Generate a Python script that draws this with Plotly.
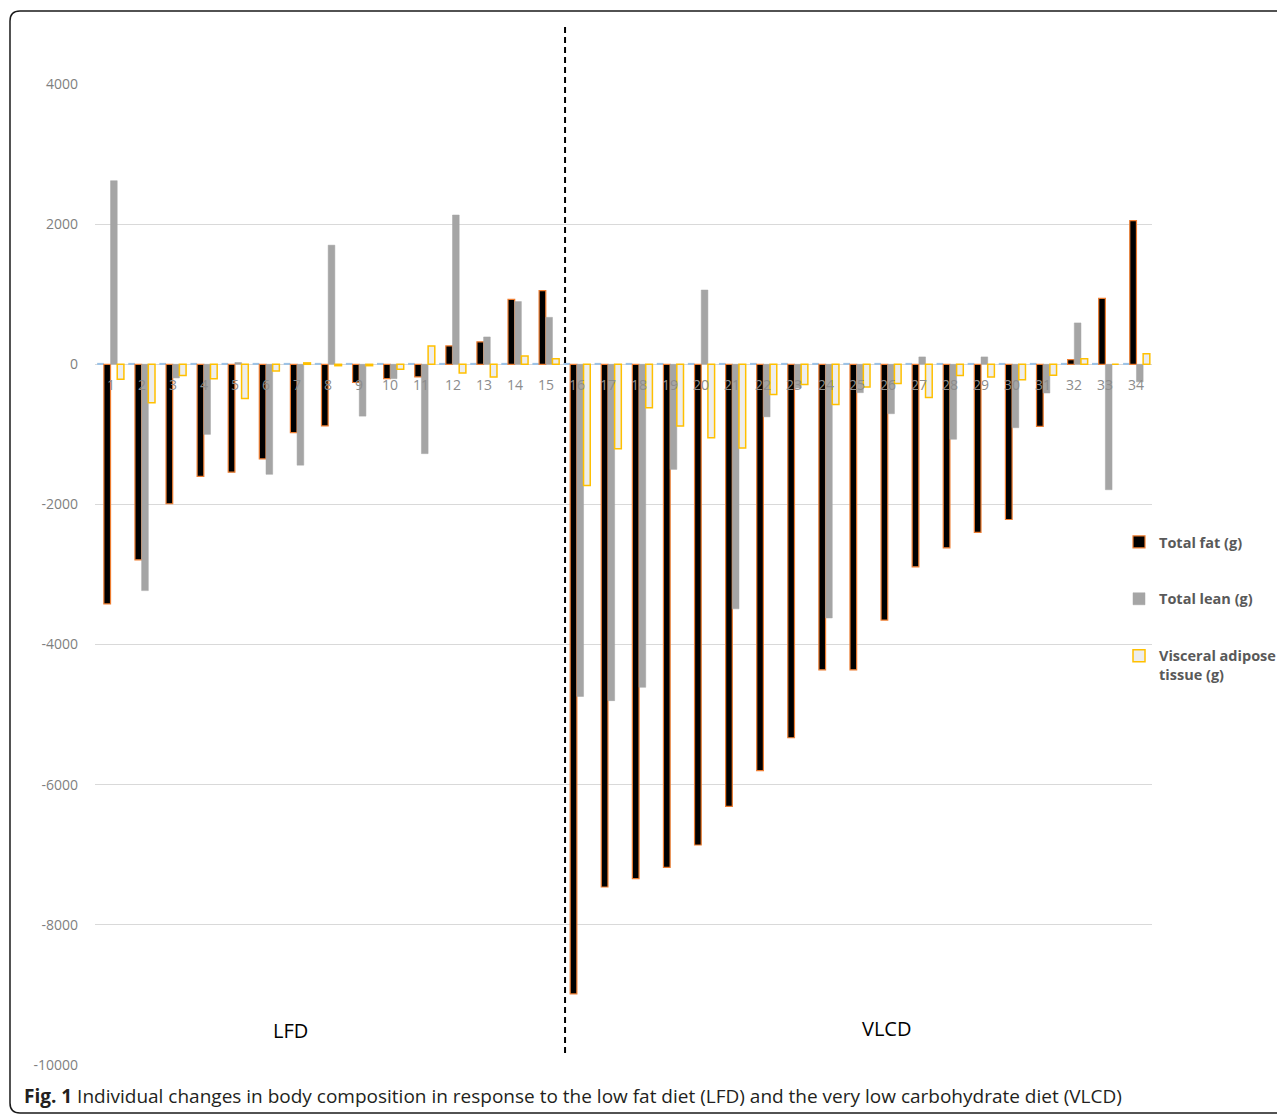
import plotly.graph_objects as go

# ---------------- data ----------------
participants = list(range(1, 35))
category_labels = [str(i) for i in participants]

total_fat = [-3420, -2790, -1990, -1600, -1540, -1350, -975, -880, -260, -205,
             -180, 262, 320, 925, 1050,
             -8985, -7460, -7340, -7180, -6860, -6310, -5800, -5330, -4360, -4360,
             -3650, -2890, -2620, -2400, -2215, -885, 67, 940, 2050]
total_lean = [2620, -3230, -195, -1000, 25, -1570, -1440, 1700, -740, -205,
              -1275, 2130, 390, 895, 670,
              -4740, -4800, -4610, -1500, 1060, -3490, -750, -340, -3620, -405,
              -705, 105, -1070, 105, -905, -410, 590, -1790, -250]
visceral = [-215, -550, -160, -205, -490, -95, 20, -20, -20, -70,
            262, -125, -180, 120, 80,
            -1730, -1205, -620, -880, -1050, -1195, -430, -290, -575, -325,
            -275, -475, -160, -180, -220, -155, 80, 0, 150]
baseline = [20, 20, 20, 20, 20, 20, 20, 20, 20, 20,
            20, 20, 20, 20, 20,
            20, 20, 20, 20, 20, 20, 20, 20, 20, 20,
            20, 20, 20, 20, 20, 20, 20, 20, 20]

tick_vals = [4000, 2000, 0, -2000, -4000, -6000, -8000, -10000]
tick_labels = ["4000", "2000", "0", "-2000", "-4000", "-6000", "-8000", "-10000"]

series_names = ["Total fat (g)", "Total lean (g)", "Visceral adipose<br>tissue (g)"]
group_names = ["LFD", "VLCD"]
caption = ("<b>Fig. 1</b> Individual changes in body composition in response to the "
           "low fat diet (LFD) and the very low carbohydrate diet (VLCD)")

# ---------------- layout geometry (screen px) ----------------
O = 8                               # page body margin
W, H = 1310, 1115 - O
L, R, T, B = 95, 1152, 84, 1065     # plot area in screen px


def px_x(p):
    return (p - L) / (R - L)


def px_y(p):
    return (B - p) / (B - T)


FONT = "Open Sans"

fig = go.Figure()

fig.add_trace(go.Bar(x=participants, y=baseline, showlegend=False,
                     marker=dict(color="#9DC3E6", line=dict(width=0)),
                     hoverinfo="skip"))
fig.add_trace(go.Bar(x=participants, y=total_fat, name=series_names[0],
                     legendgroup="a",
                     marker=dict(color="#000000", line=dict(color="#ED7D31", width=1.2))))
fig.add_trace(go.Bar(x=participants, y=total_lean, name=series_names[1],
                     legendgroup="b",
                     marker=dict(color="#A5A5A5", line=dict(color="#A5A5A5", width=0.5))))
fig.add_trace(go.Bar(x=participants, y=visceral, name=series_names[2],
                     legendgroup="c",
                     marker=dict(color="#EDEDED", line=dict(color="#FFC000", width=1.5))))

annotations = []
for x, lab in zip(participants, category_labels):
    annotations.append(dict(x=x, y=0, xref="x", yref="y", text=lab, showarrow=False,
                            yanchor="middle", yshift=-20,
                            font=dict(family=FONT, size=14, color="#8C8C8C")))

annotations.append(dict(x=6.8, y=-9510, xref="x", yref="y", text=group_names[0],
                        showarrow=False, font=dict(family=FONT, size=20, color="#000000")))
annotations.append(dict(x=25.97, y=-9485, xref="x", yref="y", text=group_names[1],
                        showarrow=False, font=dict(family=FONT, size=20, color="#000000")))
annotations.append(dict(x=px_x(22), y=px_y(1096), xref="paper", yref="paper",
                        text=caption, showarrow=False, xanchor="left", yanchor="middle",
                        font=dict(family=FONT, size=19, color="#231F20")))

# frame with rounded left corners
r = 10
fl, ft, fb, fr = 10, 11, 1113, 1300
pts = [("M", fr, ft), ("L", fl + r, ft), ("Q", fl, ft, fl, ft + r),
       ("L", fl, fb - r), ("Q", fl, fb, fl + r, fb), ("L", fr, fb)]
path = ""
for p in pts:
    if p[0] == "Q":
        path += "Q%.5f,%.5f %.5f,%.5f " % (px_x(p[1]), px_y(p[2]), px_x(p[3]), px_y(p[4]))
    else:
        path += "%s%.5f,%.5f " % (p[0], px_x(p[1]), px_y(p[2]))

shapes = [
    dict(type="path", xref="paper", yref="paper", path=path.strip(),
         line=dict(color="#1A1A1A", width=1.5), layer="above"),
    dict(type="line", xref="x", yref="paper", x0=15.62, x1=15.62,
         y0=px_y(1053), y1=px_y(27), line=dict(color="#000000", width=2, dash="6px,4px"),
         layer="above"),
]

fig.update_layout(
    width=W, height=H,
    margin=dict(l=L - O, r=W - (R - O), t=T - O, b=H - (B - O), pad=0),
    paper_bgcolor="white", plot_bgcolor="white",
    barmode="group", bargap=0.14, bargroupgap=0,
    font=dict(family=FONT),
    xaxis=dict(range=[0.5, 34.5], showticklabels=False, showgrid=False,
               zeroline=False, showline=False, ticks=""),
    yaxis=dict(range=[-10000, 4000], tickvals=tick_vals, ticktext=tick_labels,
               showgrid=True, gridcolor="#D9D9D9", gridwidth=1,
               zeroline=True, zerolinecolor="#D9D9D9", zerolinewidth=1,
               showline=False, ticks="", ticklabelstandoff=16,
               tickfont=dict(family=FONT, size=14, color="#7F7F7F")),
    legend=dict(x=px_x(1119), y=px_y(526), xanchor="left", yanchor="top",
                xref="paper", yref="paper", valign="top",
                tracegroupgap=35, bgcolor="rgba(0,0,0,0)",
                font=dict(family=FONT, size=14.5, color="#595959", weight="bold")),
    annotations=annotations,
    shapes=shapes,
    showlegend=True,
)

fig.write_html("out.html")
